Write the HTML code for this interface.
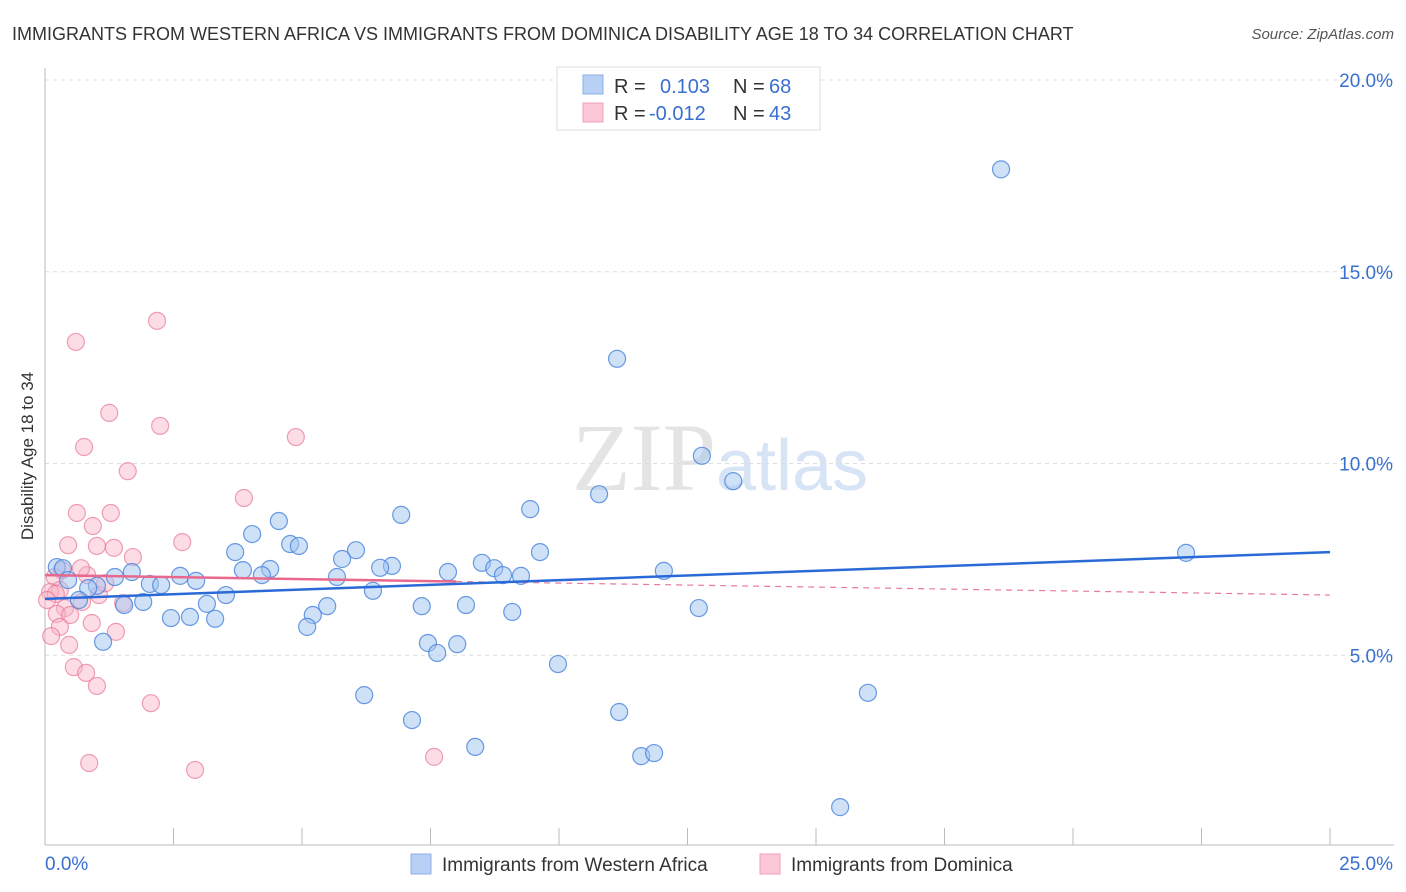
<!DOCTYPE html>
<html><head><meta charset="utf-8"><style>
body{margin:0;background:#fff;font-family:"Liberation Sans",sans-serif;}
svg{display:block}
</style></head><body>
<svg id="chart" width="1406" height="892" viewBox="0 0 1406 892" xmlns="http://www.w3.org/2000/svg" font-family="Liberation Sans, sans-serif">
<text x="12" y="40" font-size="18" fill="#333">IMMIGRANTS FROM WESTERN AFRICA VS IMMIGRANTS FROM DOMINICA DISABILITY AGE 18 TO 34 CORRELATION CHART</text>
<text x="1394" y="39" font-size="15" fill="#555" font-style="italic" text-anchor="end">Source: ZipAtlas.com</text>
<text x="720" y="490" font-size="96" fill="#e4e4e4" text-anchor="middle" font-family="Liberation Serif, serif">ZIP<tspan fill="#d6e4f5" font-family="Liberation Sans, sans-serif" font-size="72">atlas</tspan></text>
<g id="grid"></g>
<g id="axes"></g>
<g id="points"></g>
<g id="trends"></g>
<text transform="translate(33,456) rotate(-90)" font-size="17" fill="#333" text-anchor="middle">Disability Age 18 to 34</text>
<g>
<rect x="557" y="67" width="263" height="63" fill="#fff" stroke="#ddd"/>
<rect x="583" y="75" width="20" height="19" fill="#b8d0f4" stroke="#8ab0e8"/>
<rect x="583" y="103" width="20" height="19" fill="#fcc8d8" stroke="#f0a0b8"/>
<text x="614" y="93" font-size="20" fill="#333">R =</text>
<text x="660" y="93" font-size="20" fill="#3a6fd0">0.103</text>
<text x="733" y="93" font-size="20" fill="#333">N =</text>
<text x="769" y="93" font-size="20" fill="#3a6fd0">68</text>
<text x="614" y="120" font-size="20" fill="#333">R =</text>
<text x="649" y="120" font-size="20" fill="#3a6fd0">-0.012</text>
<text x="733" y="120" font-size="20" fill="#333">N =</text>
<text x="769" y="120" font-size="20" fill="#3a6fd0">43</text>
</g>
<g>
<rect x="411" y="854" width="20" height="20" fill="#b8d0f4" stroke="#8ab0e8"/>
<text x="442" y="871" font-size="19" fill="#333">Immigrants from Western Africa</text>
<rect x="760" y="854" width="20" height="20" fill="#fcc8d8" stroke="#f0a0b8"/>
<text x="791" y="871" font-size="19" fill="#333">Immigrants from Dominica</text>
</g>
</svg>
<script>
const blueX=[18.6,11.13,12.78,13.39,10.78,22.2,9.44,6.93,4.55,4.03,4.77,4.94,3.7,6.05,5.78,9.63,8.5,8.74,6.75,6.52,7.84,8.91,9.26,12.04,3.85,4.38,4.22,5.68,2.63,2.94,1.69,1.36,0.23,0.35,0.45,1.01,0.84,2.04,2.26,3.52,1.91,1.54,0.66,3.15,6.38,5.49,7.33,8.19,9.09,12.72,2.45,2.82,3.31,5.21,5.1,1.13,7.45,7.63,8.02,9.98,6.21,16.01,7.14,11.17,8.37,11.6,11.85,15.47];
const blueY=[17.67,12.73,10.2,9.54,9.2,7.67,8.81,8.66,8.5,8.16,7.9,7.85,7.69,7.74,7.51,7.69,7.41,7.27,7.33,7.28,7.17,7.09,7.07,7.2,7.22,7.25,7.09,7.04,7.07,6.94,7.17,7.04,7.3,7.27,6.96,6.81,6.75,6.86,6.83,6.57,6.39,6.31,6.44,6.34,6.68,6.28,6.28,6.31,6.13,6.23,5.97,6.0,5.95,6.05,5.74,5.35,5.32,5.06,5.29,4.77,3.96,4.02,3.31,3.52,2.61,2.37,2.45,1.04];
const pinkX=[2.18,0.6,1.25,2.24,4.88,0.76,1.61,3.87,0.62,1.28,0.93,0.45,2.67,1.01,1.34,1.71,0.82,0.19,0.29,0.1,1.05,0.72,1.52,0.39,0.23,0.49,0.91,0.29,1.38,0.12,0.47,0.56,0.8,1.01,2.06,0.86,2.92,7.57,0.21,0.33,0.04,1.17,0.7];
const pinkY=[13.72,13.17,11.32,10.98,10.69,10.43,9.8,9.1,8.71,8.71,8.37,7.87,7.95,7.85,7.8,7.56,7.09,7.04,6.7,6.65,6.57,6.39,6.36,6.23,6.08,6.05,5.84,5.74,5.61,5.5,5.27,4.69,4.54,4.2,3.75,2.19,2.01,2.35,6.6,7.22,6.44,6.88,7.27];
const blueTrend=[6.47,7.69];   // y at x=0 and x=25
const pinkTrend=[7.09,6.57];   // y at x=0 and x=25
const pinkSolidEnd=8;
const yTicks=[5,10,15,20];
const yTickLabels=["5.0%","10.0%","15.0%","20.0%"];
const xLabels=["0.0%","25.0%"];
const NS="http://www.w3.org/2000/svg";
const sx=v=>45+v*51.4, sy=v=>847-v*38.35;
function mk(tag,attrs,parent){const e=document.createElementNS(NS,tag);for(const k in attrs)e.setAttribute(k,attrs[k]);document.getElementById(parent).appendChild(e);return e;}
yTicks.forEach((t,i)=>{
 const g=mk('line',{x1:45,x2:1394,y1:sy(t),y2:sy(t),stroke:'#ddd','stroke-dasharray':'4,4'},'grid');
 
 
 const l=mk('text',{x:1393,y:sy(t)+7,'font-size':19,fill:'#3a6fd0','text-anchor':'end'},'axes');
 l.textContent=yTickLabels[i];
 
 
});
const al=mk('line',{x1:45,x2:45,y1:68,y2:845,stroke:'#bbb'},'axes');


const bl=mk('line',{x1:45,x2:1394,y1:845,y2:845,stroke:'#bbb'},'axes');


for(let i=0;i<=10;i++){
 const t=mk('line',{x1:sx(i*2.5),x2:sx(i*2.5),y1:828,y2:845,stroke:'#bbb'},'axes');
 
 
}
const xl0=mk('text',{x:45,y:870,'font-size':19,fill:'#3a6fd0'},'axes');xl0.textContent=xLabels[0];


const xl1=mk('text',{x:1393,y:870,'font-size':19,fill:'#3a6fd0','text-anchor':'end'},'axes');xl1.textContent=xLabels[1];


pinkX.forEach((x,i)=>{
 const c=mk('circle',{cx:sx(x),cy:sy(pinkY[i]),r:8.5,fill:'rgba(248,180,200,0.45)',stroke:'rgba(232,120,150,0.7)','stroke-width':1.2},'points');
 
 
});
blueX.forEach((x,i)=>{
 const c=mk('circle',{cx:sx(x),cy:sy(blueY[i]),r:8.5,fill:'rgba(160,195,240,0.5)',stroke:'rgba(70,130,220,0.8)','stroke-width':1.2},'points');
 
 
});
const pAt=x=>pinkTrend[0]+(pinkTrend[1]-pinkTrend[0])*x/25;
const pd=mk('line',{x1:sx(pinkSolidEnd),y1:sy(pAt(pinkSolidEnd)),x2:sx(25),y2:sy(pinkTrend[1]),stroke:'#e87a9a','stroke-width':1.2,'stroke-dasharray':'6,5'},'trends');


const ps=mk('line',{x1:sx(0),y1:sy(pinkTrend[0]),x2:sx(pinkSolidEnd),y2:sy(pAt(pinkSolidEnd)),stroke:'#e8688e','stroke-width':2.5},'trends');


const bt=mk('line',{x1:sx(0),y1:sy(blueTrend[0]),x2:sx(25),y2:sy(blueTrend[1]),stroke:'#2a6ad6','stroke-width':2.5},'trends');


</script>
</body></html>
